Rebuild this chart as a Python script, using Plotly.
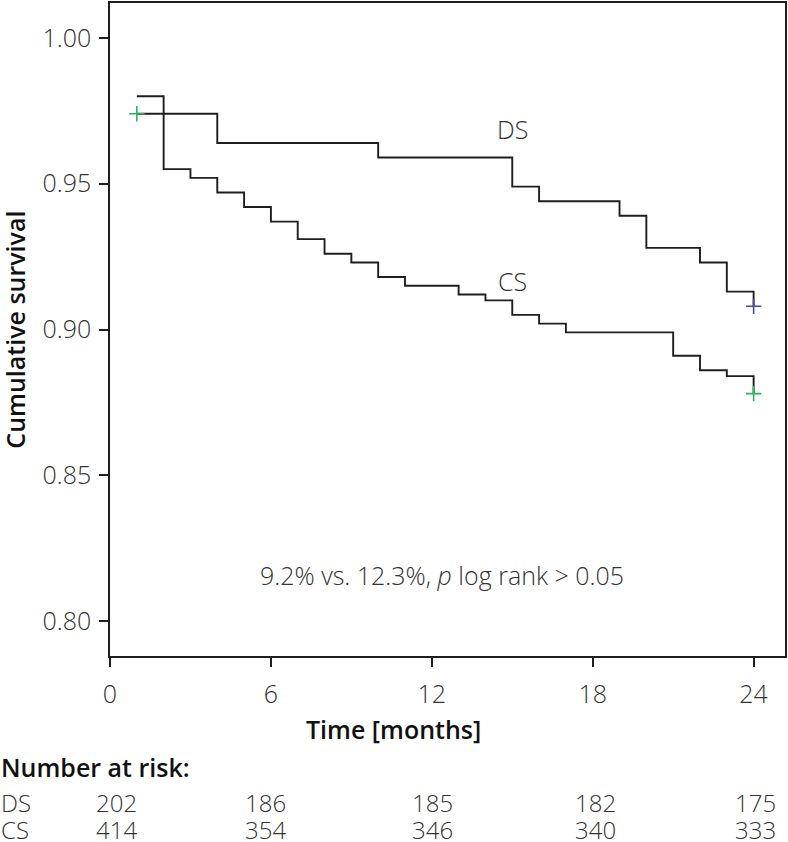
import plotly.graph_objects as go

# Kaplan-Meier steps (time in months, cumulative survival)
ds_time = [1, 2, 4, 10, 15, 16, 19, 20, 22, 23, 24]
ds_surv = [0.980, 0.974, 0.964, 0.959, 0.949, 0.944, 0.939, 0.928, 0.923, 0.913, 0.908]
cs_time = [1, 2, 3, 4, 5, 6, 7, 8, 9, 10, 11, 13, 14, 15, 16, 17, 21, 22, 23, 24]
cs_surv = [0.974, 0.955, 0.952, 0.947, 0.942, 0.937, 0.931, 0.926, 0.923, 0.918,
           0.915, 0.912, 0.910, 0.905, 0.902, 0.899, 0.891, 0.886, 0.884, 0.878]

# censored observations
ds_cens_time = [24]
ds_cens_surv = [0.908]
cs_cens_time = [1, 24]
cs_cens_surv = [0.974, 0.878]

x_ticks = [0, 6, 12, 18, 24]
y_ticks = [0.80, 0.85, 0.90, 0.95, 1.00]

risk_groups = ["DS", "CS"]
risk_times = [0, 6, 12, 18, 24]
risk_ds = [202, 186, 185, 182, 175]
risk_cs = [414, 354, 346, 340, 333]

W, H = 788, 842
M_L, M_R, M_T, M_B = 110, 2, 1, 186
X_RANGE = [0, 25.17]
Y_RANGE = [0.788, 1.012]

LIGHT = dict(family="Open Sans, sans-serif", size=25, color="#333333", weight=300)
TABLE = LIGHT | dict(size=24)
BOLD = dict(family="Open Sans, sans-serif", size=25, color="#111111", weight=600)
LINE = "#1e1e1e"


def paper_y(py):
    """Pixel row (from the top of the page) -> paper y coordinate."""
    return (H - M_B - py) / (H - M_T - M_B)


def paper_x(px):
    return (px - M_L) / (W - M_L - M_R)


def note(text, x, y, font, **kw):
    kw.setdefault("xanchor", "center")
    fig.add_annotation(text=text, x=x, y=y, font=font, showarrow=False,
                       yanchor="middle", borderpad=0, **kw)


fig = go.Figure()

for t, s in ((ds_time, ds_surv), (cs_time, cs_surv)):
    fig.add_trace(go.Scatter(
        x=t, y=s, mode="lines", line=dict(color=LINE, width=1.9, shape="hv"),
        showlegend=False, hoverinfo="skip",
    ))

for t, s, col in ((ds_cens_time, ds_cens_surv, "#4b4ba8"),
                  (cs_cens_time, cs_cens_surv, "#2bb35e")):
    fig.add_trace(go.Scatter(
        x=t, y=s, mode="markers",
        marker=dict(symbol="cross-thin", size=11, line=dict(color=col, width=1.6)),
        showlegend=False, hoverinfo="skip",
    ))

# curve labels and test result
note("DS", 15.0, 0.9688, LIGHT)
note("CS", 15.0, 0.9168, LIGHT)
note("9.2% vs. 12.3%, <i>p</i> log rank &gt; 0.05", 12.38, 0.8158, LIGHT)

# axis titles (the x title sits left of the plot centre in the original)
note("Time [months]", paper_x(394), paper_y(729), BOLD, xref="paper", yref="paper")
note("Cumulative survival", paper_x(14), 0.5, BOLD, xref="paper", yref="paper",
     textangle=-90)

# number-at-risk table below the x-axis
note("Number at risk:", paper_x(0), paper_y(767), BOLD, xref="paper",
     yref="paper", xanchor="left")
col_shift = [6, -5, 1, 3, 2]
for g, counts, py in zip(risk_groups, (risk_ds, risk_cs), (803, 830)):
    note(g, paper_x(0), paper_y(py), TABLE, xref="paper", yref="paper",
         xanchor="left")
    for t, n, dx in zip(risk_times, counts, col_shift):
        note(str(n), t, paper_y(py), TABLE, xref="x", yref="paper", xshift=dx)

fig.update_layout(
    width=W, height=H,
    margin=dict(l=M_L, r=M_R, t=M_T, b=M_B),
    paper_bgcolor="white", plot_bgcolor="white",
)
fig.update_xaxes(
    range=X_RANGE, tickvals=x_ticks, ticks="outside", ticklen=9, tickwidth=1.5,
    tickcolor=LINE, showgrid=False, zeroline=False, showline=True, linecolor=LINE,
    linewidth=1.5, mirror=True, tickfont=LIGHT, ticklabelstandoff=6,
)
fig.update_yaxes(
    range=Y_RANGE, tickvals=y_ticks, tickformat=".2f", ticks="outside", ticklen=9,
    tickwidth=1.5, tickcolor=LINE, showgrid=False, zeroline=False, showline=True,
    linecolor=LINE, linewidth=1.5, mirror=True, tickfont=LIGHT,
    ticklabelstandoff=3,
)

# drop the default 8px body margin so the figure fills the window exactly
fig.write_html("out.html", config={"displayModeBar": False},
               post_script="document.body.style.margin='0';")
